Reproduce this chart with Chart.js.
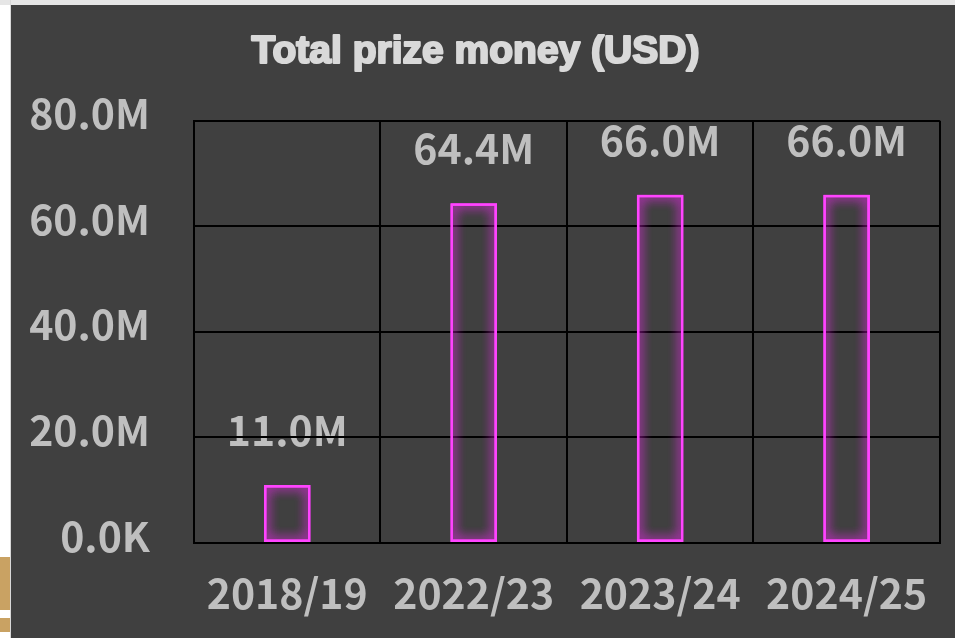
<!DOCTYPE html>
<html>
<head>
<meta charset="utf-8">
<script src="https://cdn.jsdelivr.net/npm/chart.js@4.4.1/dist/chart.umd.min.js"></script>
<style>
  html, body { margin: 0; padding: 0; background: #ffffff; overflow: hidden; }
  #topStrip { position: absolute; left: 0; top: 0; width: 955px; height: 5px; background: #e6e6e6; }
  #edge { position: absolute; left: 10px; top: 0; width: 1px; height: 638px; background: #d8d8d8; }
  #logo1 { position: absolute; left: 0; top: 557px; width: 10px; height: 53px; background: #c9a263; }
  #logo2 { position: absolute; left: 0; top: 618px; width: 10px; height: 14px; background: #c9a263; }
  #wrap { position: absolute; left: 11px; top: 5px; width: 944px; height: 633px; background: #404040; }
</style>
</head>
<body>
<div id="topStrip"></div>
<div id="edge"></div>
<div id="logo1"></div>
<div id="logo2"></div>
<div id="wrap"><canvas id="prizeChart" width="944" height="633"></canvas></div>
<script>
document.addEventListener("DOMContentLoaded", function() {
    // Seasons and total prize pool (USD)
    const seasons = ["2018/19", "2022/23", "2023/24", "2024/25"];
    const prizeMoney = [11.0e6, 64.4e6, 66.0e6, 66.0e6];
    const yTicks = [0, 20e6, 40e6, 60e6, 80e6];

    const labelColor = "#bfbfbf";
    const titleColor = "#d9d9d9";
    const tickFont = { family: "'Noto Sans CJK JP', 'Liberation Sans', sans-serif", size: 41, weight: "bold" };
    const titleFont = { family: "'Liberation Sans', Arial, sans-serif", size: 39, weight: "bold" };

    function formatMoney(v) {
        if (v === 0) return "0.0K";
        return (v / 1e6).toFixed(1) + "M";
    }

    // Value labels, painted before the grid so the grid lines run over them
    const valueLabels = {
        id: "valueLabels",
        beforeDraw(chart) {
            const ctx = chart.ctx;
            const meta = chart.getDatasetMeta(0);
            const y = chart.scales.y;
            ctx.save();
            ctx.fillStyle = labelColor;
            ctx.font = `${tickFont.weight} ${tickFont.size}px ${tickFont.family}`;
            ctx.textAlign = "center";
            ctx.textBaseline = "middle";
            meta.data.forEach((bar, i) => {
                const v = prizeMoney[i];
                ctx.fillText(formatMoney(v), bar.x, y.getPixelForValue(v + 10.3e6));
            });
            ctx.restore();
        }
    };

    // Heavier title: stroke over the plugin's text
    const heavyTitle = {
        id: "heavyTitle",
        afterDraw(chart) {
            const tb = chart.titleBlock;
            const opts = chart.options.plugins.title;
            const ctx = chart.ctx;
            const lineHeight = titleFont.size * 1.2;
            ctx.save();
            ctx.font = `bold ${titleFont.size}px ${titleFont.family}`;
            ctx.textAlign = "center";
            ctx.textBaseline = "middle";
            ctx.strokeStyle = titleColor;
            ctx.lineWidth = 2.2;
            ctx.lineJoin = "round";
            ctx.strokeText(opts.text, tb.left + tb.width / 2, tb.top + opts.padding.top + lineHeight / 2);
            ctx.restore();
        }
    };

    // Neon glow on the bar outlines (second pass strengthens the halo)
    const barGlow = {
        id: "barGlow",
        beforeDatasetsDraw(chart) {
            const ctx = chart.ctx;
            ctx.save();
            ctx.shadowColor = "rgba(255, 40, 255, 1)";
            ctx.shadowBlur = 12;
        },
        afterDatasetsDraw(chart) {
            const ctx = chart.ctx;
            chart.getDatasetMeta(0).data.forEach(bar => bar.draw(ctx));
            ctx.restore();
        }
    };

    const ctx = document.getElementById("prizeChart").getContext("2d");
    new Chart(ctx, {
        type: "bar",
        data: {
            labels: seasons,
            datasets: [{
                data: prizeMoney,
                backgroundColor: "rgba(0,0,0,0)",
                borderColor: "#ff44ff",
                borderWidth: 2.5,
                borderSkipped: false,
                categoryPercentage: 1,
                barPercentage: 0.25
            }]
        },
        options: {
            responsive: false,
            animation: false,
            layout: { padding: { right: 15 } },
            plugins: {
                legend: { display: false },
                tooltip: { enabled: false },
                title: {
                    display: true,
                    text: "Total prize money (USD)",
                    color: titleColor,
                    font: titleFont,
                    padding: { top: 24, bottom: 45 }
                }
            },
            scales: {
                x: {
                    grid: { color: "#000000", lineWidth: 2, drawTicks: false },
                    border: { color: "#000000", width: 2 },
                    ticks: { color: labelColor, font: tickFont, padding: 26 },
                    afterFit(scale) { scale.height = 95; }
                },
                y: {
                    min: 0,
                    max: 80e6,
                    afterBuildTicks(scale) { scale.ticks = yTicks.map(v => ({ value: v })); },
                    grid: { color: "#000000", lineWidth: 2, drawTicks: false },
                    border: { color: "#000000", width: 2 },
                    ticks: { color: labelColor, font: tickFont, padding: 44, labelOffset: -7, callback: formatMoney },
                    afterFit(scale) { scale.width = 183; }
                }
            }
        },
        plugins: [valueLabels, heavyTitle, barGlow]
    });
});
</script>
</body>
</html>
